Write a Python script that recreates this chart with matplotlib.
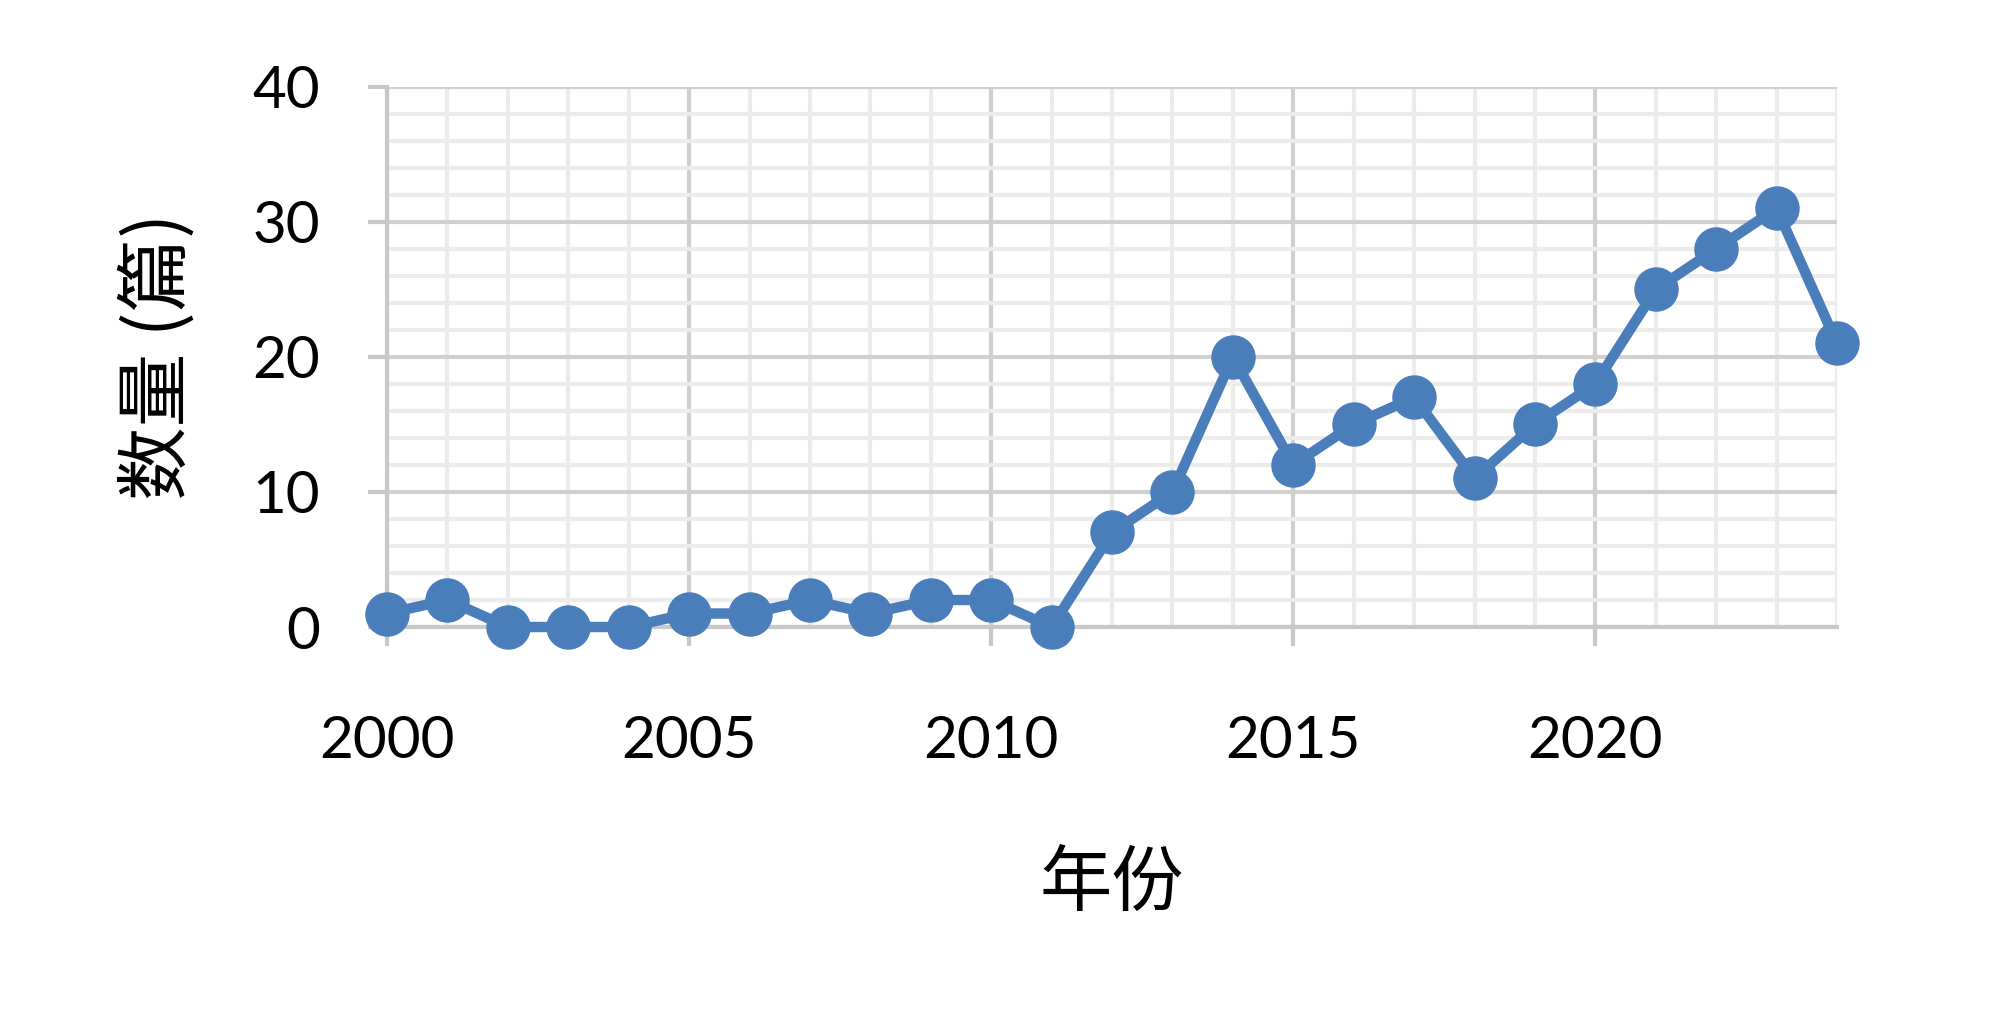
import matplotlib.pyplot as plt
from matplotlib.ticker import MultipleLocator

years = list(range(2000, 2025))
counts = [1, 2, 0, 0, 0, 1, 1, 2, 1, 2, 2, 0, 7, 10, 20, 12, 15, 17, 11, 15, 18, 25, 28, 31, 21]

x_ticks = [2000, 2005, 2010, 2015, 2020]
y_ticks = [0, 10, 20, 30, 40]

blue = "#4a7ebb"
major_grid = "#d0d0d0"
minor_grid = "#ececec"

fig = plt.figure(figsize=(20, 10.34), dpi=100)
ax = fig.add_axes([0.1935, 0.3936, 0.725, 0.5224])

ax.plot(years, counts, color=blue, linewidth=7.5, marker="o", markersize=31,
        zorder=3, clip_on=False)

ax.set_xlim(2000, 2024)
ax.set_ylim(0, 40)
ax.set_xticks(x_ticks)
ax.set_yticks(y_ticks)
ax.xaxis.set_minor_locator(MultipleLocator(1))
ax.yaxis.set_minor_locator(MultipleLocator(2))

ax.grid(which="minor", color=minor_grid, linewidth=3, zorder=0)
ax.grid(which="major", color=major_grid, linewidth=3, zorder=1)
ax.set_axisbelow(True)

for side in ["top", "right"]:
    ax.spines[side].set_visible(False)
for side in ["left", "bottom"]:
    ax.spines[side].set_color("#c8c8c8")
    ax.spines[side].set_linewidth(3)

ax.tick_params(which="major", axis="both", color="#c8c8c8", width=3, length=14)
ax.tick_params(which="minor", length=0)
ax.tick_params(axis="y", pad=34)
ax.tick_params(axis="x", pad=49)

for lab in ax.get_xticklabels() + ax.get_yticklabels():
    lab.set_fontfamily("Lato")
    lab.set_fontsize(42)
    lab.set_color("black")

ax.set_xlabel("年份", family=["Noto Sans CJK SC", "DejaVu Sans"], fontsize=52, labelpad=58)
ax.set_ylabel("数量 (篇)", family=["Noto Sans CJK SC", "DejaVu Sans"], fontsize=53, labelpad=40)

fig.savefig("out.png", dpi=100, facecolor="white")
